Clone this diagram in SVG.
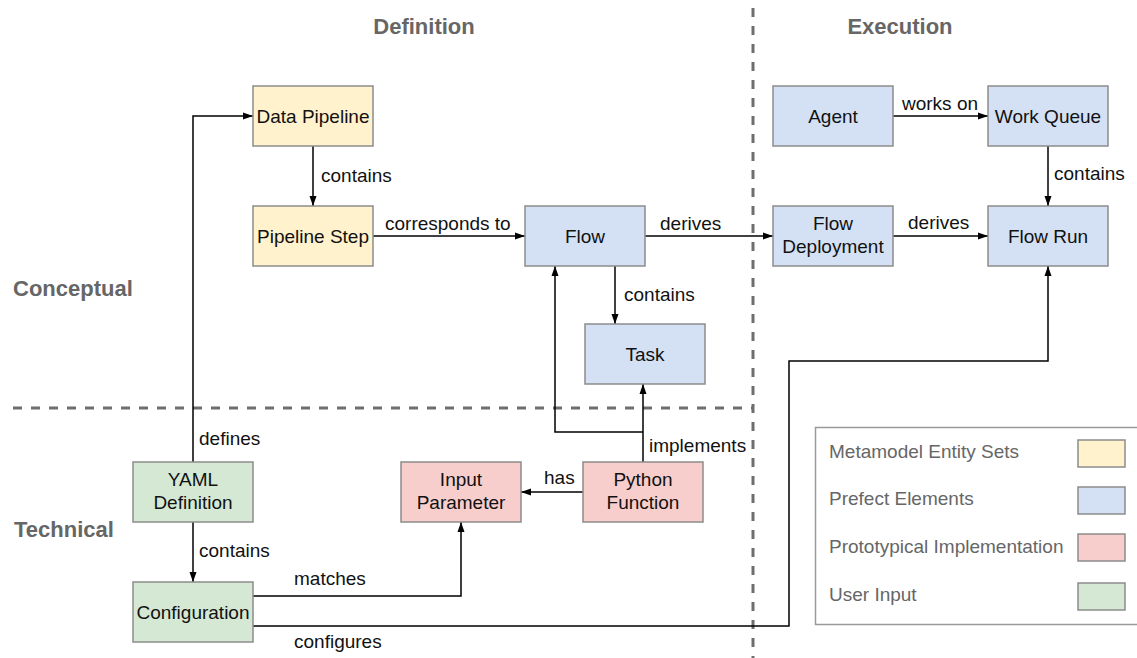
<svg xmlns="http://www.w3.org/2000/svg" width="1137" height="658" viewBox="0 0 1137 658">
  <defs>
    <style>
      text { font-family: "Liberation Sans", Arial, Helvetica, sans-serif; }
      .node rect { stroke: #8c8c8c; stroke-width: 1.5; }
      .node text { font-size: 19px; fill: #111; text-anchor: middle; }
      .yellow { fill: #fff2cc; }
      .blue { fill: #d4e1f5; }
      .red { fill: #f8cecc; }
      .green { fill: #d5e8d4; }
      .edge { fill: none; stroke: #000; stroke-width: 1.5; }
      .elabel { font-size: 19px; fill: #111; }
      .section { font-size: 22px; font-weight: bold; fill: #666; }
      .divider { fill: none; stroke: #6e6e6e; stroke-width: 3; stroke-dasharray: 9 9; }
      .legend-text { font-size: 19px; fill: #666; }
    </style>
    <marker id="arrow" markerUnits="userSpaceOnUse" markerWidth="10" markerHeight="8" refX="10" refY="4" orient="auto">
      <path d="M0,0.5 L10,4 L0,7.5 z" fill="#000"/>
    </marker>
  </defs>

  <rect width="1137" height="658" fill="#fff"/>

  <!-- layer dividers -->
  <g id="dividers">
    <line class="divider" x1="753" y1="8" x2="753" y2="658"/>
    <line class="divider" x1="13" y1="408" x2="753" y2="408"/>
  </g>

  <!-- section headings -->
  <g id="sections">
    <text class="section" x="424" y="34" text-anchor="middle">Definition</text>
    <text class="section" x="900" y="34" text-anchor="middle">Execution</text>
    <text class="section" x="13" y="296">Conceptual</text>
    <text class="section" x="14" y="537">Technical</text>
  </g>

  <!-- connectors -->
  <g id="connectors">
    <path class="edge" d="M313,146 V206" marker-end="url(#arrow)"/>
    <text class="elabel" x="321" y="182">contains</text>

    <path class="edge" d="M373,236 H525" marker-end="url(#arrow)"/>
    <text class="elabel" x="385" y="230">corresponds to</text>

    <path class="edge" d="M645,236 H773" marker-end="url(#arrow)"/>
    <text class="elabel" x="660" y="230">derives</text>

    <path class="edge" d="M615,266 V324" marker-end="url(#arrow)"/>
    <text class="elabel" x="624" y="301">contains</text>

    <path class="edge" d="M893,116 H988" marker-end="url(#arrow)"/>
    <text class="elabel" x="902" y="110">works on</text>

    <path class="edge" d="M1048,146 V206" marker-end="url(#arrow)"/>
    <text class="elabel" x="1054" y="180">contains</text>

    <path class="edge" d="M893,236 H988" marker-end="url(#arrow)"/>
    <text class="elabel" x="908" y="229">derives</text>

    <path class="edge" d="M193,462 V116 H253" marker-end="url(#arrow)"/>
    <text class="elabel" x="199" y="445">defines</text>

    <path class="edge" d="M193,522 V582" marker-end="url(#arrow)"/>
    <text class="elabel" x="199" y="557">contains</text>

    <path class="edge" d="M253,596 H461 V522" marker-end="url(#arrow)"/>
    <text class="elabel" x="294" y="585">matches</text>

    <path class="edge" d="M253,626 H789 V361 H1048 V266" marker-end="url(#arrow)"/>
    <text class="elabel" x="294" y="648">configures</text>

    <path class="edge" d="M583,492 H521" marker-end="url(#arrow)"/>
    <text class="elabel" x="544" y="484">has</text>

    <path class="edge" d="M643,462 V384" marker-end="url(#arrow)"/>
    <path class="edge" d="M643,432 H555 V266" marker-end="url(#arrow)"/>
    <text class="elabel" x="649" y="452">implements</text>
  </g>

  <!-- nodes -->
  <g id="data-pipeline" class="node">
    <rect class="yellow" x="253" y="86" width="120" height="60"/>
    <text x="313" y="123">Data Pipeline</text>
  </g>
  <g id="pipeline-step" class="node">
    <rect class="yellow" x="253" y="206" width="120" height="60"/>
    <text x="313" y="243">Pipeline Step</text>
  </g>
  <g id="flow" class="node">
    <rect class="blue" x="525" y="206" width="120" height="60"/>
    <text x="585" y="243">Flow</text>
  </g>
  <g id="task" class="node">
    <rect class="blue" x="585" y="324" width="120" height="60"/>
    <text x="645" y="361">Task</text>
  </g>
  <g id="agent" class="node">
    <rect class="blue" x="773" y="86" width="120" height="60"/>
    <text x="833" y="123">Agent</text>
  </g>
  <g id="work-queue" class="node">
    <rect class="blue" x="988" y="86" width="120" height="60"/>
    <text x="1048" y="123">Work Queue</text>
  </g>
  <g id="flow-deployment" class="node">
    <rect class="blue" x="773" y="206" width="120" height="60"/>
    <text x="833" y="230">Flow</text>
    <text x="833" y="253">Deployment</text>
  </g>
  <g id="flow-run" class="node">
    <rect class="blue" x="988" y="206" width="120" height="60"/>
    <text x="1048" y="243">Flow Run</text>
  </g>
  <g id="yaml-definition" class="node">
    <rect class="green" x="133" y="462" width="120" height="60"/>
    <text x="193" y="486">YAML</text>
    <text x="193" y="509">Definition</text>
  </g>
  <g id="configuration" class="node">
    <rect class="green" x="133" y="582" width="120" height="60"/>
    <text x="193" y="619">Configuration</text>
  </g>
  <g id="input-parameter" class="node">
    <rect class="red" x="401" y="462" width="120" height="60"/>
    <text x="461" y="486">Input</text>
    <text x="461" y="509">Parameter</text>
  </g>
  <g id="python-function" class="node">
    <rect class="red" x="583" y="462" width="120" height="60"/>
    <text x="643" y="486">Python</text>
    <text x="643" y="509">Function</text>
  </g>

  <!-- legend -->
  <g id="legend">
    <rect x="815.5" y="427.5" width="340" height="197" fill="#fff" stroke="#9a9a9a" stroke-width="1.5"/>
    <text class="legend-text" x="829" y="458">Metamodel Entity Sets</text>
    <text class="legend-text" x="829" y="505">Prefect Elements</text>
    <text class="legend-text" x="829" y="553">Prototypical Implementation</text>
    <text class="legend-text" x="829" y="601">User Input</text>
    <g class="node">
      <rect class="yellow" x="1078" y="440" width="47" height="27"/>
      <rect class="blue" x="1078" y="487" width="47" height="27"/>
      <rect class="red" x="1078" y="534" width="47" height="27"/>
      <rect class="green" x="1078" y="583" width="47" height="27"/>
    </g>
  </g>
</svg>
